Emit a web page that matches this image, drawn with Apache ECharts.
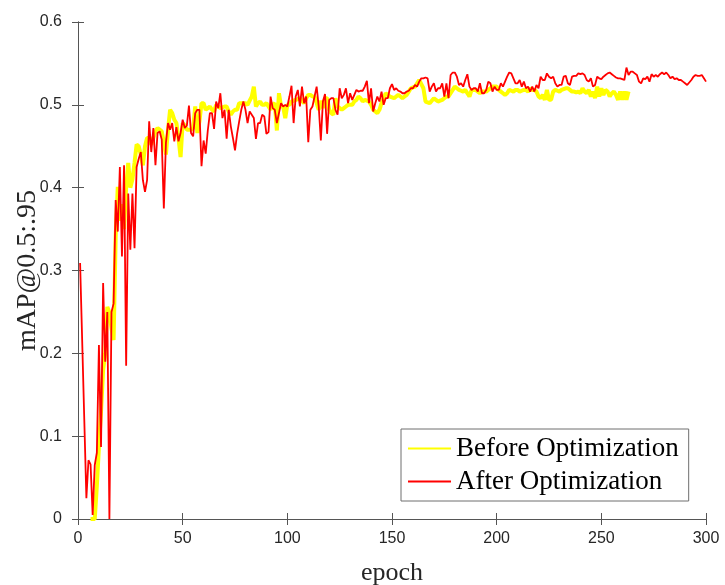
<!DOCTYPE html>
<html><head><meta charset="utf-8">
<script src="https://cdn.jsdelivr.net/npm/echarts@6/dist/echarts.min.js"></script>
<style>html,body{margin:0;padding:0;background:#fff}#c{width:725px;height:585px}</style>
</head><body><div id="c"></div>
<script>
const seriesNames = ['Before Optimization', 'After Optimization'];
const xAxisTitle = 'epoch';
const yAxisTitle = 'mAP@0.5:.95';
const xTickValues = [0, 50, 100, 150, 200, 250, 300];
const yTickValues = [0, 0.1, 0.2, 0.3, 0.4, 0.5, 0.6];

const beforeStartEpoch = 6;
const beforeValues = [
0,0,0,0.04,0.087,0.13,0.18,0.2,0.256,0.25,
0.23,0.216,0.341,0.401,0.36,0.38,0.35,0.4,0.43,0.40,
0.41,0.43,0.452,0.45,0.44,0.427,0.45,0.46,0.46,0.452,
0.46,0.468,0.472,0.47,0.468,0.455,0.44,0.47,0.494,0.49,
0.482,0.478,0.46,0.437,0.478,0.475,0.47,0.47,0.47,0.472,
0.498,0.466,0.48,0.502,0.502,0.494,0.496,0.498,0.494,0.492,
0.5,0.498,0.496,0.497,0.498,0.498,0.492,0.488,0.492,0.494,
0.494,0.502,0.502,0.502,0.502,0.5,0.505,0.51,0.522,0.498,
0.502,0.504,0.5,0.5,0.502,0.498,0.494,0.5,0.502,0.469,
0.514,0.498,0.498,0.484,0.5,0.5,0.504,0.505,0.506,0.507,
0.508,0.505,0.502,0.508,0.512,0.512,0.51,0.51,0.502,0.494,
0.505,0.496,0.508,0.508,0.494,0.49,0.488,0.508,0.498,0.496,
0.494,0.496,0.498,0.5,0.5,0.5,0.504,0.506,0.51,0.508,
0.504,0.506,0.505,0.504,0.5,0.494,0.492,0.49,0.494,0.502,
0.508,0.514,0.512,0.51,0.509,0.508,0.51,0.512,0.51,0.508,
0.51,0.512,0.516,0.52,0.521,0.522,0.526,0.53,0.525,0.52,
0.504,0.503,0.502,0.505,0.508,0.506,0.504,0.505,0.506,0.508,
0.51,0.51,0.514,0.518,0.522,0.52,0.518,0.517,0.516,0.518,
0.514,0.51,0.518,0.518,0.518,0.516,0.514,0.516,0.516,0.516,
0.518,0.52,0.522,0.522,0.522,0.518,0.516,0.514,0.512,0.514,
0.518,0.517,0.516,0.518,0.518,0.516,0.517,0.518,0.518,0.516,
0.52,0.518,0.518,0.516,0.51,0.508,0.512,0.506,0.518,0.506,
0.506,0.516,0.518,0.517,0.516,0.518,0.519,0.52,0.52,0.518,
0.516,0.516,0.515,0.516,0.514,0.52,0.516,0.514,0.518,0.51,
0.516,0.508,0.522,0.51,0.52,0.512,0.518,0.516,0.51,0.514,
0.516,0.512,0.506,0.516,0.506,0.516,0.506,0.516
];

const afterStartEpoch = 1;
const afterValues = [
0.309,0.215,0.12,0.025,0.071,0.066,0.005,0.065,0.08,0.21,
0.087,0.285,0.19,0.25,0.0,0.25,0.26,0.385,0.347,0.425,
0.317,0.427,0.185,0.393,0.325,0.393,0.327,0.425,0.435,0.443,
0.409,0.395,0.409,0.48,0.443,0.472,0.427,0.466,0.468,0.458,
0.375,0.454,0.478,0.47,0.478,0.456,0.473,0.456,0.466,0.482,
0.472,0.475,0.499,0.466,0.462,0.49,0.494,0.494,0.426,0.457,
0.441,0.469,0.49,0.49,0.471,0.504,0.496,0.514,0.484,0.494,
0.459,0.494,0.474,0.46,0.445,0.465,0.48,0.494,0.504,0.494,
0.478,0.492,0.488,0.484,0.459,0.478,0.478,0.488,0.486,0.465,
0.467,0.51,0.496,0.494,0.478,0.49,0.502,0.498,0.5,0.498,
0.51,0.523,0.478,0.51,0.518,0.498,0.522,0.502,0.51,0.455,
0.494,0.498,0.51,0.522,0.498,0.457,0.504,0.513,0.465,0.506,
0.508,0.508,0.494,0.488,0.52,0.508,0.512,0.52,0.502,0.514,
0.506,0.512,0.518,0.516,0.517,0.517,0.522,0.529,0.502,0.52,
0.492,0.502,0.51,0.504,0.516,0.5,0.508,0.508,0.52,0.525,
0.518,0.52,0.517,0.516,0.514,0.514,0.516,0.517,0.52,0.52,
0.524,0.522,0.528,0.532,0.532,0.533,0.532,0.516,0.522,0.526,
0.516,0.52,0.52,0.526,0.51,0.526,0.508,0.536,0.539,0.539,
0.534,0.524,0.526,0.522,0.53,0.537,0.522,0.518,0.52,0.52,
0.516,0.526,0.514,0.514,0.518,0.528,0.526,0.516,0.522,0.518,
0.518,0.526,0.522,0.528,0.534,0.539,0.538,0.532,0.526,0.526,
0.53,0.522,0.528,0.52,0.522,0.516,0.522,0.516,0.524,0.52,
0.534,0.53,0.53,0.538,0.534,0.532,0.534,0.526,0.522,0.524,
0.524,0.534,0.535,0.526,0.524,0.534,0.535,0.535,0.538,0.537,
0.538,0.536,0.53,0.528,0.532,0.522,0.524,0.534,0.532,0.531,
0.534,0.536,0.538,0.539,0.537,0.535,0.533,0.532,0.532,0.531,
0.53,0.545,0.536,0.54,0.54,0.538,0.536,0.528,0.526,0.532,
0.531,0.534,0.528,0.537,0.534,0.536,0.534,0.537,0.539,0.537,
0.539,0.536,0.532,0.534,0.531,0.532,0.53,0.53,0.528,0.526,
0.524,0.527,0.53,0.534,0.536,0.535,0.535,0.536,0.532,0.528
];

const toPairs = (start, vals) => vals.map((v, i) => [start + i, v]);
const axisColor = '#555555';
const labelFont = { fontFamily: 'Liberation Sans', fontSize: 16, color: '#262626' };
const serif = 'Liberation Serif';

const chart = echarts.init(document.getElementById('c'), null, { renderer: 'canvas' });
chart.setOption({
  animation: false,
  backgroundColor: '#ffffff',
  grid: { left: 78, right: 19, top: 22, bottom: 66, containLabel: false, outerBoundsMode: 'none' },
  legend: {
    left: 401, top: 429,
    orient: 'vertical',
    data: seriesNames,
    backgroundColor: '#ffffff',
    borderColor: '#6e6e6e', borderWidth: 1, borderRadius: 0,
    padding: [6, 10, 6, 6],
    itemWidth: 43, itemHeight: 14, itemGap: 6,
    itemStyle: { opacity: 0 },
    textStyle: { fontFamily: serif, fontSize: 27, color: '#000000' }
  },
  xAxis: [
    { type: 'value', min: xTickValues[0], max: xTickValues[xTickValues.length - 1], interval: xTickValues[1] - xTickValues[0],
      position: 'bottom',
      name: xAxisTitle, nameLocation: 'middle', nameGap: 41, nameMoveOverlap: false,
      nameTextStyle: { fontFamily: serif, fontSize: 26, color: '#262626' },
      axisLine: { show: true, lineStyle: { color: axisColor, width: 1 } },
      axisTick: { show: true, inside: true, length: 6, lineStyle: { color: axisColor } },
      axisLabel: Object.assign({ margin: 12 }, labelFont),
      splitLine: { show: false } },
    { type: 'value', min: xTickValues[0], max: xTickValues[xTickValues.length - 1], interval: xTickValues[1] - xTickValues[0],
      position: 'top',
      axisLine: { show: true, lineStyle: { color: axisColor, width: 1 } },
      axisTick: { show: true, inside: true, length: 6, lineStyle: { color: axisColor } },
      axisLabel: { show: false }, splitLine: { show: false } }
  ],
  yAxis: [
    { type: 'value', min: yTickValues[0], max: yTickValues[yTickValues.length - 1], interval: 0.1,
      position: 'left',
      name: yAxisTitle, nameLocation: 'middle', nameGap: 36, nameRotate: 90, nameMoveOverlap: false,
      nameTextStyle: { fontFamily: serif, fontSize: 28, color: '#262626' },
      axisLine: { show: true, lineStyle: { color: axisColor, width: 1 } },
      axisTick: { show: true, inside: true, length: 6, lineStyle: { color: axisColor } },
      axisLabel: Object.assign({ margin: 16, formatter: v => String(Math.round(v * 10) / 10) }, labelFont),
      splitLine: { show: false } },
    { type: 'value', min: yTickValues[0], max: yTickValues[yTickValues.length - 1], interval: 0.1,
      position: 'right',
      axisLine: { show: true, lineStyle: { color: axisColor, width: 1 } },
      axisTick: { show: true, inside: true, length: 6, lineStyle: { color: axisColor } },
      axisLabel: { show: false }, splitLine: { show: false } }
  ],
  series: [
    { name: seriesNames[0], type: 'line', xAxisIndex: 0, yAxisIndex: 0,
      data: toPairs(beforeStartEpoch, beforeValues),
      symbol: 'none', lineStyle: { color: '#ffff00', width: 4 }, itemStyle: { color: '#ffff00' }, z: 2 },
    { name: seriesNames[1], type: 'line', xAxisIndex: 0, yAxisIndex: 0,
      data: toPairs(afterStartEpoch, afterValues),
      symbol: 'none', lineStyle: { color: '#ff0000', width: 1.8 }, itemStyle: { color: '#ff0000' }, z: 3 }
  ]
});
</script>
</body></html>
